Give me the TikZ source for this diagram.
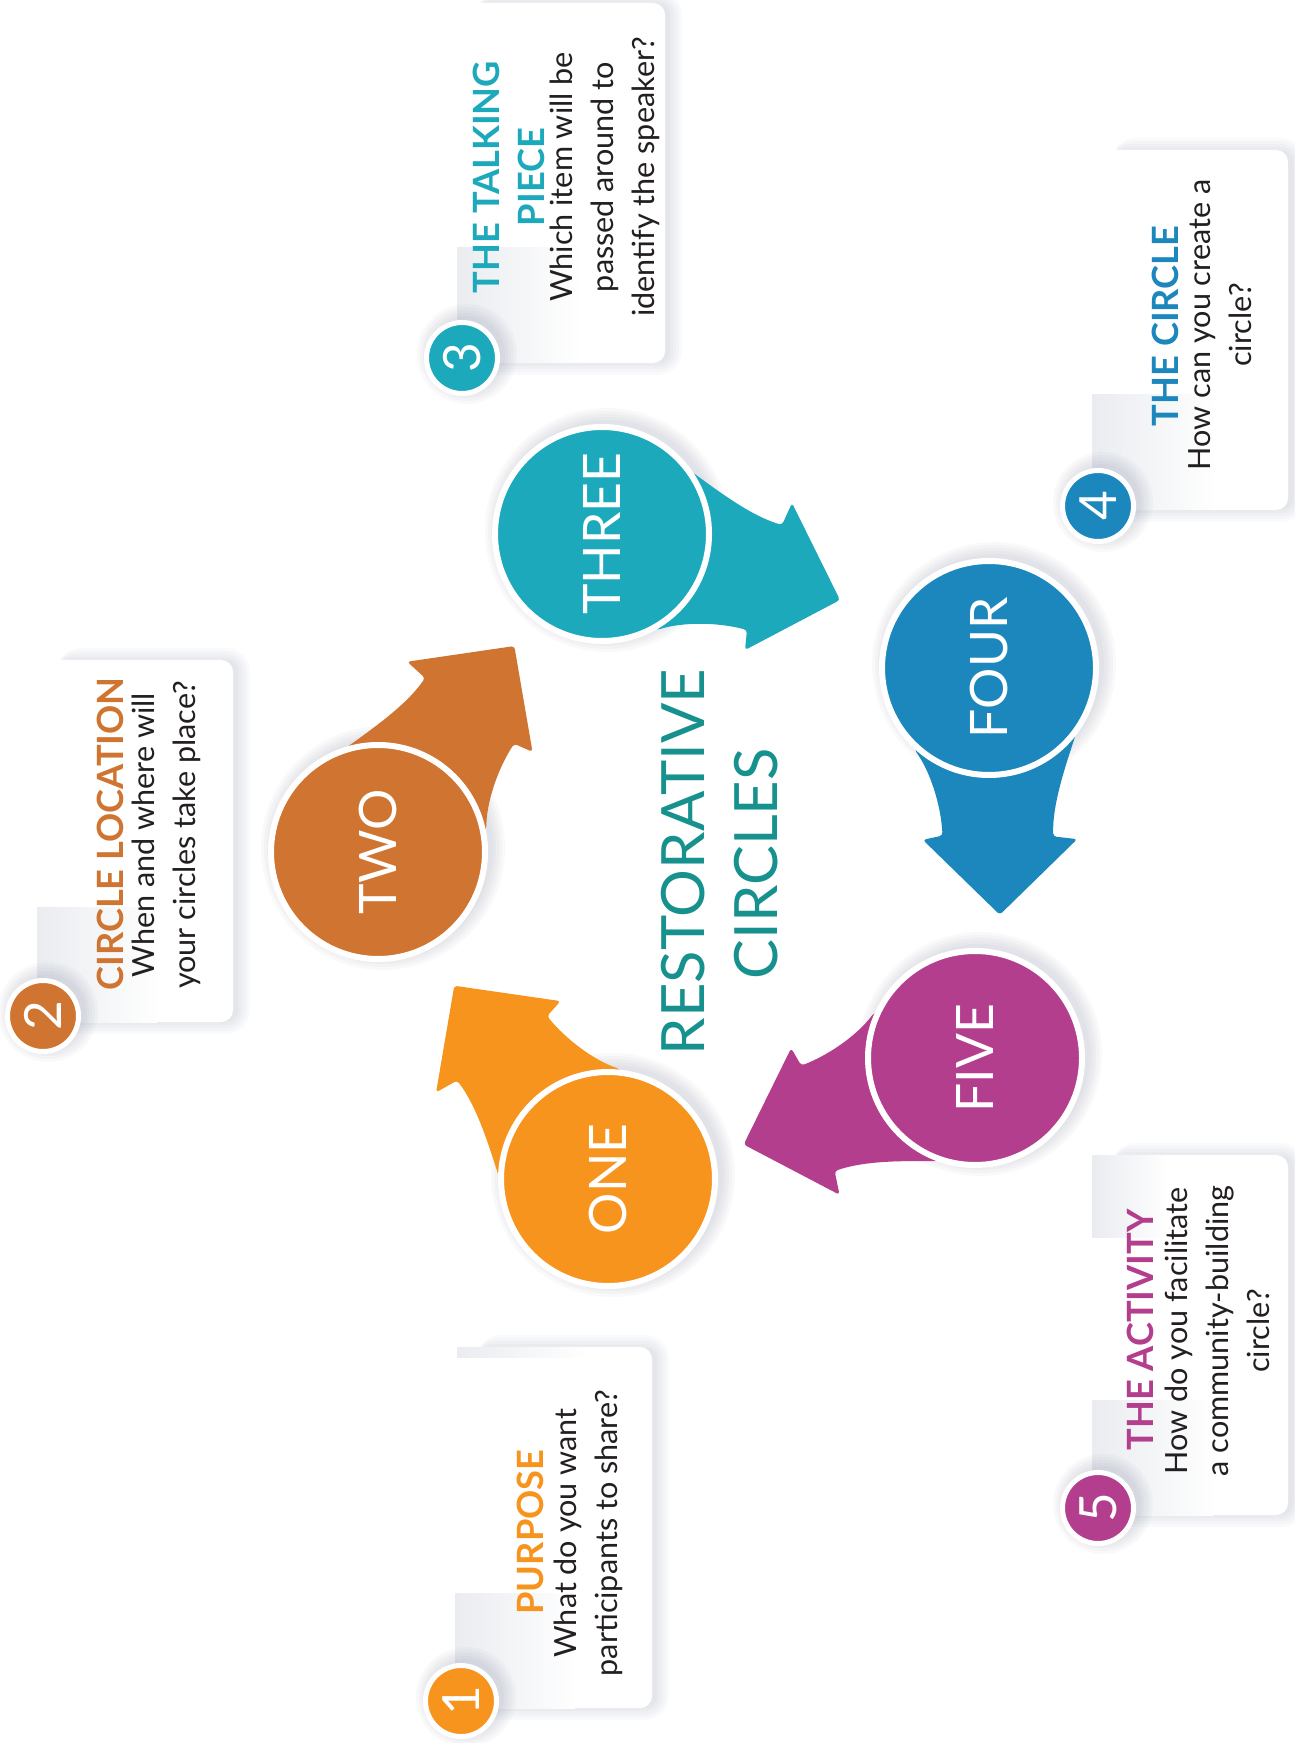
\documentclass[tikz,border=0pt]{standalone}
\usepackage{fontspec}
\setmainfont{Lato}
\usetikzlibrary{calc}

\definecolor{cone}{HTML}{F7941D}
\definecolor{ctwo}{HTML}{CF7431}
\definecolor{cthree}{HTML}{1DA9BC}
\definecolor{cfour}{HTML}{1B87BC}
\definecolor{cfive}{HTML}{B33E8D}
\definecolor{cteal}{HTML}{17918D}
\definecolor{cbody}{HTML}{231F20}
\definecolor{cpanel}{HTML}{EAECF0}
\definecolor{cshadow}{HTML}{5A6380}

% soft shadow under a disc: centre, radius
\newcommand\discshadow[2]{%
  \foreach \g in {0,3,6,9,12}{%
    \fill[cshadow,opacity=0.035] ($#1+(5,-4)$) circle ({#2+\g});}}
% soft shadow under a card (kept off the left edge): corner, opposite corner
\newcommand\cardshadow[2]{%
  \foreach \g in {0,3,6,9,12}{%
    \fill[cshadow,opacity=0.03,rounded corners={1.2mm+\g*0.1mm}]
      ($#1+(20,-\g)$) rectangle ($#2+(5+\g,\g)$);}}
% curved arrow leaving a step disc
\newcommand\steparrow[3]{%
  \begin{scope}[shift={#1},rotate=#2]
    \fill[#3,rounded corners=0.9pt]
      (0,-40) -- (90,-62) .. controls (120,-40) and (150,-18) .. (180,-9)
      -- (190,-31) -- (238,66) -- (143,116) -- (145,96)
      .. controls (115,88) and (80,88) .. (55,96) -- (0,60) -- cycle;
  \end{scope}}

\tikzset{
  stepdisc/.style={circle, draw=white, line width=0.6mm, minimum size=21.4mm,
    inner sep=0, rotate=90, text=white,
    font=\fontsize{14.7}{17}\selectfont},
  badge/.style={circle, draw=white, line width=0.5mm, minimum size=7.1mm,
    inner sep=0, rotate=90, text=white,
    font=\fontsize{14.6}{17}\selectfont},
  cardtitle/.style={rotate=90, align=center, inner sep=0,
    font=\fontsize{10.3}{12.8}\selectfont\bfseries},
  cardbody/.style={rotate=90, align=center, inner sep=0, text=cbody,
    font=\fontsize{8.7}{11.7}\selectfont},
  headline/.style={rotate=90, align=center, inner sep=0, text=cteal,
    font=\fontsize{17}{20.8}\selectfont},
  card/.style={fill=white, rounded corners=1.2mm},
  panel/.style={left color=cpanel, right color=white!96!cpanel}
}

\begin{document}
\begin{tikzpicture}[x=0.1mm,y=-0.1mm]
\useasboundingbox (0,0) rectangle (1294,1743);
\fill[white] (0,0) rectangle (1294,1743);

% ---------- question cards ----------
\cardshadow{(457,1347)}{(652,1708)}
\cardshadow{(37,660)}{(233,1022)}
\cardshadow{(457,3)}{(665,363)}
\cardshadow{(1092,150)}{(1288,510)}
\cardshadow{(1092,1155)}{(1288,1515)}

\fill[card] (457,1347) rectangle (652,1708);
\fill[card] (37,660) rectangle (233,1022);
\fill[card] (457,3) rectangle (665,363);
\fill[card] (1092,150) rectangle (1288,510);
\fill[card] (1092,1155) rectangle (1288,1515);

\shade[panel] (455,1593) rectangle (575,1708);
\shade[panel] (457,1347) rectangle (583,1357);
\shade[panel] (37,907) rectangle (157,1022);
\shade[panel] (457,248) rectangle (577,363);
\shade[panel] (1092,395) rectangle (1213,510);
\shade[panel] (1092,1400) rectangle (1213,1515);
\shade[panel] (1092,1155) rectangle (1165,1237);

\node[cardtitle, text=cone] (t1) at (530,1532) {PURPOSE};
\node[cardbody] (b1) at (588,1533) {What do you want\\participants to share?};

\node[cardtitle, text=ctwo] (t2) at (110,834) {CIRCLE LOCATION};
\node[cardbody] (b2) at (166,835) {When and where will\\your circles take place?};

\node[cardtitle, text=cthree] (t3) at (509,177) {THE TALKING\\PIECE};
\node[cardbody] (b3) at (605,177) {Which item will be\\passed around to\\identify the speaker?};

\node[cardtitle, text=cfour] (t4) at (1165,326) {THE CIRCLE};
\node[cardbody] (b4) at (1220,325) {How can you create a\\circle?};

\node[cardtitle, text=cfive] (t5) at (1140,1330) {THE ACTIVITY};
\node[cardbody] (b5) at (1217,1331) {How do you facilitate\\a community-building\\circle?};

% ---------- numbered badges ----------
\discshadow{(461,1701)}{38}
\discshadow{(43,1016)}{38}
\discshadow{(462,358)}{38}
\discshadow{(1098,506)}{38}
\discshadow{(1098,1508)}{38}
\node[badge, fill=cone] (n1) at (461,1701) {1};
\node[badge, fill=ctwo] (n2) at (43,1016) {2};
\node[badge, fill=cthree] (n3) at (462,358) {3};
\node[badge, fill=cfour] (n4) at (1098,506) {4};
\node[badge, fill=cfive] (n5) at (1098,1508) {5};

% ---------- centre headline ----------
\node[headline] (h1) at (683,862) {RESTORATIVE};
\node[headline] (h2) at (756,864) {CIRCLES};

% ---------- step discs and arrows ----------
\coordinate (p1) at (608,1179);
\coordinate (p2) at (378,852);
\coordinate (p3) at (602,534);
\coordinate (p4) at (989,668);
\coordinate (p5) at (975,1058);

\discshadow{(p1)}{110}
\discshadow{(p2)}{110}
\discshadow{(p3)}{110}
\discshadow{(p4)}{110}
\discshadow{(p5)}{110}

\steparrow{(p1)}{144}{cone}
\steparrow{(p2)}{72}{ctwo}
\steparrow{(p3)}{0}{cthree}
\steparrow{(p4)}{-72}{cfour}
\steparrow{(p5)}{-144}{cfive}

\node[stepdisc, fill=cone] (one) at (p1) {ONE};
\node[stepdisc, fill=ctwo] (two) at (p2) {TWO};
\node[stepdisc, fill=cthree] (three) at (p3) {THREE};
\node[stepdisc, fill=cfour] (four) at (p4) {FOUR};
\node[stepdisc, fill=cfive] (five) at (p5) {FIVE};
\end{tikzpicture}
\end{document}
